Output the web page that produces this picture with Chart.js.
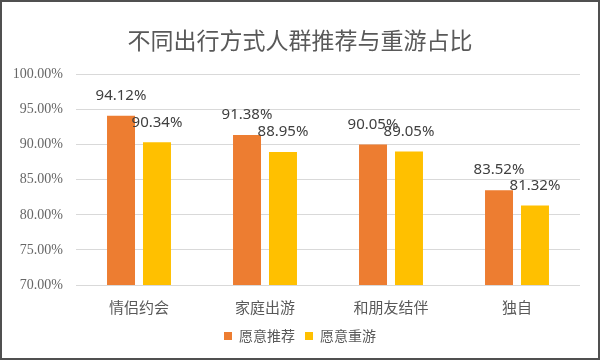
<!DOCTYPE html>
<html>
<head>
<meta charset="utf-8">
<script src="https://cdn.jsdelivr.net/npm/chart.js@4/dist/chart.umd.min.js"></script>
<style>
  html, body { margin: 0; padding: 0; background: #fff; }
  #wrap { width: 596px; height: 356px; border: 2px solid #505050; position: relative; }
  canvas { display: block; }
</style>
</head>
<body>
<div id="wrap"><canvas id="chart" width="596" height="356"></canvas></div>
<script>
// Chart data
const categories = ['情侣约会', '家庭出游', '和朋友结伴', '独自'];
const recommendValues = [94.12, 91.38, 90.05, 83.52];
const revisitValues = [90.34, 88.95, 89.05, 81.32];
const seriesNames = ['愿意推荐', '愿意重游'];
const titleText = '不同出行方式人群推荐与重游占比';

Chart.defaults.font.family = "'Noto Sans CJK SC', 'Noto Sans', sans-serif";

// draws the percent value above each bar
const valueLabels = {
    id: 'valueLabels',
    afterDatasetsDraw(chart) {
        const ctx = chart.ctx;
        ctx.save();
        ctx.font = "15px 'Noto Sans', sans-serif";
        ctx.fillStyle = '#404040';
        ctx.textAlign = 'center';
        ctx.textBaseline = 'middle';
        chart.data.datasets.forEach((ds, i) => {
            chart.getDatasetMeta(i).data.forEach((bar, j) => {
                ctx.fillText(ds.data[j].toFixed(2) + '%', bar.x, bar.y - 20);
            });
        });
        ctx.restore();
    }
};

const ctx = document.getElementById('chart').getContext('2d');

new Chart(ctx, {
    type: 'bar',
    data: {
        labels: categories,
        datasets: [
            {
                label: seriesNames[0],
                data: recommendValues,
                backgroundColor: '#ED7D31',
                categoryPercentage: 0.571,
                barPercentage: 0.778
            },
            {
                label: seriesNames[1],
                data: revisitValues,
                backgroundColor: '#FFC000',
                categoryPercentage: 0.571,
                barPercentage: 0.778
            }
        ]
    },
    options: {
        responsive: false,
        animation: false,
        layout: {
            padding: { left: 9, right: 9, top: 0, bottom: 5 }
        },
        plugins: {
            title: {
                display: true,
                text: titleText,
                color: '#595959',
                font: { size: 23, weight: 'normal' },
                padding: { top: 24, bottom: 21 }
            },
            legend: {
                position: 'bottom',
                labels: {
                    boxWidth: 8,
                    boxHeight: 8,
                    color: '#595959',
                    padding: 10,
                    font: { size: 14, family: "'Noto Sans CJK SC', serif" }
                }
            },
            tooltip: { enabled: false }
        },
        scales: {
            x: {
                afterFit: function(scale) { scale.height = 34; },
                grid: { display: false, drawTicks: false },
                border: { display: false },
                ticks: {
                    color: '#595959',
                    padding: 13,
                    font: { size: 15 }
                }
            },
            y: {
                min: 70,
                max: 100,
                afterFit: function(scale) { scale.width = 65; },
                grid: { color: '#D9D9D9', lineWidth: 1, drawTicks: false },
                border: { display: false },
                ticks: {
                    stepSize: 5,
                    color: '#666666',
                    padding: 13,
                    font: { size: 14, family: "'Liberation Serif', serif" },
                    callback: function(value) {
                        return value.toFixed(2) + '%';
                    }
                }
            },
            // empty right axis, only keeps the plot's right edge in place
            yRight: {
                position: 'right',
                min: 0,
                max: 1,
                afterFit: function(scale) { scale.width = 9; },
                grid: { display: false, drawTicks: false },
                border: { display: false },
                ticks: { display: false }
            }
        }
    },
    plugins: [valueLabels]
});
</script>
</body>
</html>
